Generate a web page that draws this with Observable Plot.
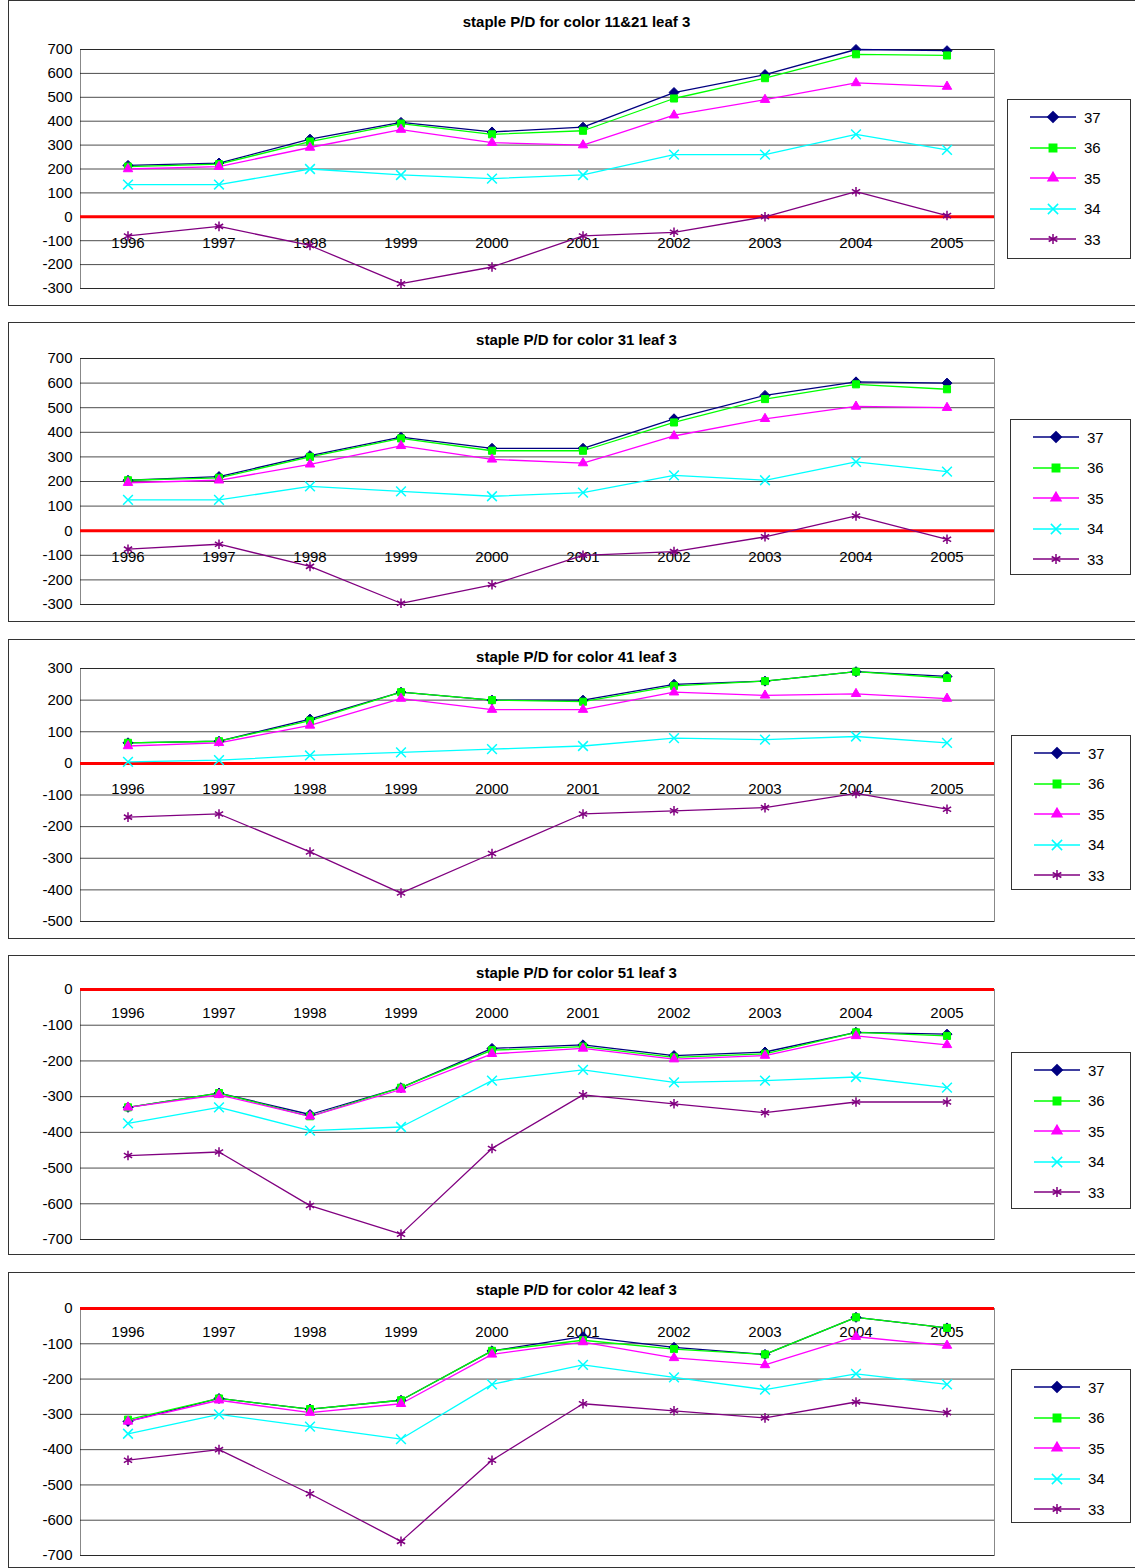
<!DOCTYPE html>
<html><head><meta charset="utf-8">
<script src="https://cdn.jsdelivr.net/npm/d3@7"></script>
<script src="https://cdn.jsdelivr.net/npm/@observablehq/plot@0.6"></script>
<style>
body{margin:0;background:#fff;font-family:"Liberation Sans",Arial,sans-serif;width:1135px;height:1568px;overflow:hidden;position:relative}
.panel{position:absolute;left:8px;width:1140px;border:1px solid #333;box-sizing:border-box;background:#fff}
.title{position:absolute;left:0;width:1135px;text-align:center;font-weight:bold;font-size:15px}
.legend{position:absolute;border:1px solid #333;background:#fff;box-sizing:border-box}
.legend div{height:30.5px;display:flex;align-items:center;font-size:15px;padding-left:20px}
.legend svg{margin-right:6px}
</style></head><body>
<script>
const years = ["1996","1997","1998","1999","2000","2001","2002","2003","2004","2005"];
const seriesNames = ["37","36","35","34","33"];
const colors = ["#000080","#00ff00","#ff00ff","#00ffff","#800080"];
const symbols = ["diamond2","square2","triangle2","times","asterisk"];

const titles = ["staple P/D for color 11&21 leaf 3","staple P/D for color 31 leaf 3","staple P/D for color 41 leaf 3","staple P/D for color 51 leaf 3","staple P/D for color 42 leaf 3"];

const p1 = [
  [215,225,325,395,355,375,520,595,700,695],
  [210,220,315,390,345,360,495,580,680,675],
  [200,210,290,365,310,300,425,490,560,545],
  [135,135,200,175,160,175,260,260,345,280],
  [-80,-40,-120,-280,-210,-80,-65,0,105,5]];
const p2 = [
  [205,220,305,380,335,335,455,550,605,600],
  [205,215,300,375,325,325,440,535,595,575],
  [195,205,270,345,290,275,385,455,505,500],
  [125,125,180,160,140,155,225,205,280,240],
  [-75,-55,-145,-295,-220,-100,-85,-25,60,-35]];
const p3 = [
  [65,70,140,225,200,200,250,260,290,275],
  [65,70,135,225,200,195,245,260,290,270],
  [55,65,120,205,170,170,225,215,220,205],
  [5,10,25,35,45,55,80,75,85,65],
  [-170,-160,-280,-410,-285,-160,-150,-140,-95,-145]];
const p4 = [
  [-330,-290,-350,-275,-165,-155,-185,-175,-120,-125],
  [-330,-290,-355,-275,-170,-160,-190,-180,-120,-130],
  [-330,-295,-355,-280,-180,-165,-195,-185,-130,-155],
  [-375,-330,-395,-385,-255,-225,-260,-255,-245,-275],
  [-465,-455,-605,-685,-445,-295,-320,-345,-315,-315]];
const p5 = [
  [-320,-255,-285,-260,-120,-80,-110,-130,-25,-55],
  [-315,-255,-285,-260,-120,-90,-115,-130,-25,-55],
  [-320,-260,-295,-270,-130,-95,-140,-160,-80,-105],
  [-355,-300,-335,-370,-215,-160,-195,-230,-185,-215],
  [-430,-400,-525,-660,-430,-270,-290,-310,-265,-295]];

const panels = [
  {data:p1, top:0, h:306, mt:48, mb:17, dom:[-300,700], titleY:12, leg:[998,98,124,160]},
  {data:p2, top:322, h:300, mt:35, mb:17, dom:[-300,700], titleY:8, leg:[1001,96,121,156]},
  {data:p3, top:639, h:300, mt:28, mb:17, dom:[-500,300], titleY:8, leg:[1002,95,120,155]},
  {data:p4, top:955, h:300, mt:33, mb:15, dom:[-700,0], titleY:8, leg:[1002,96,120,157]},
  {data:p5, top:1272, h:296, mt:35, mb:12, dom:[-700,0], titleY:8, leg:[1002,96,120,154]}];

panels.forEach((p,i) => {
  const div = document.createElement("div");
  div.className = "panel";
  div.style.top = p.top + "px";
  div.style.height = p.h + "px";
  document.body.appendChild(div);

  const rows = [];
  p.data.forEach((vals,s) => vals.forEach((v,j) => rows.push({year:years[j], value:v, s})));
  const ticks = d3.range(p.dom[0], p.dom[1]+1, 100);

  const chart = Plot.plot({
    width: 1000, height: p.h - 2,
    marginLeft: 71, marginRight: 15, marginTop: p.mt, marginBottom: p.mb,
    style: {fontFamily:"Liberation Sans, Arial, sans-serif", fontSize:"15px", color:"#000", background:"transparent"},
    x: {type:"band", domain: years, padding:0, axis:null},
    y: {domain: p.dom, ticks: ticks, tickSize:0, tickPadding:8},
    marks: [
      Plot.frame({stroke:"#888"}),
      Plot.gridY(ticks, {stroke:"#000", strokeOpacity:0.7}),
      Plot.ruleY([0], {stroke:"#ff0000", strokeWidth:3}),
      Plot.text(years, {x:d=>d, y:0, dy:p.dom[1] === 0 ? 24 : 26, fontSize:15, fill:"#000"}),
      ...seriesNames.map((n,s) => Plot.line(rows.filter(r=>r.s===s), {x:"year", y:"value", stroke:colors[s], strokeWidth:1.3})),
      ...seriesNames.map((n,s) => Plot.dot(rows.filter(r=>r.s===s), {x:"year", y:"value", symbol:()=>symbols[s], r:4.5,
        fill: s<3 ? colors[s] : "none", stroke: colors[s], strokeWidth: s<3 ? 1 : 1.5})),
      Plot.axisY({ticks: ticks, tickSize:0, tickPadding:8, label:null, fontSize:15, tickFormat: d => String(d)})
    ]
  });
  chart.style.position = "absolute";
  chart.style.left = "0px";
  chart.style.top = "0px";
  div.appendChild(chart);

  const t = document.createElement("div");
  t.className = "title";
  t.style.top = p.titleY + "px";
  t.style.left = "0px";
  t.textContent = titles[i];
  div.appendChild(t);

  const lg = document.createElement("div");
  lg.className = "legend";
  lg.style.left = p.leg[0] + "px";
  lg.style.top = p.leg[1] + "px";
  lg.style.width = p.leg[2] + "px";
  lg.style.height = p.leg[3] + "px";
  lg.style.paddingTop = "2px";
  seriesNames.forEach((n,s) => {
    const item = document.createElement("div");
    const sym = d3.symbol(d3[{diamond2:"symbolDiamond2",square2:"symbolSquare2",triangle2:"symbolTriangle2",times:"symbolTimes",asterisk:"symbolAsterisk"}[symbols[s]]], 70)();
    item.innerHTML = `<svg width="50" height="14"><line x1="2" x2="48" y1="7" y2="7" stroke="${colors[s]}" stroke-width="1.5"/>
      <path d="${sym}" transform="translate(25,7)" fill="${s<3?colors[s]:"none"}" stroke="${colors[s]}" stroke-width="1.5"/></svg>${n}`;
    lg.appendChild(item);
  });
  div.appendChild(lg);
});
</script>
</body></html>
